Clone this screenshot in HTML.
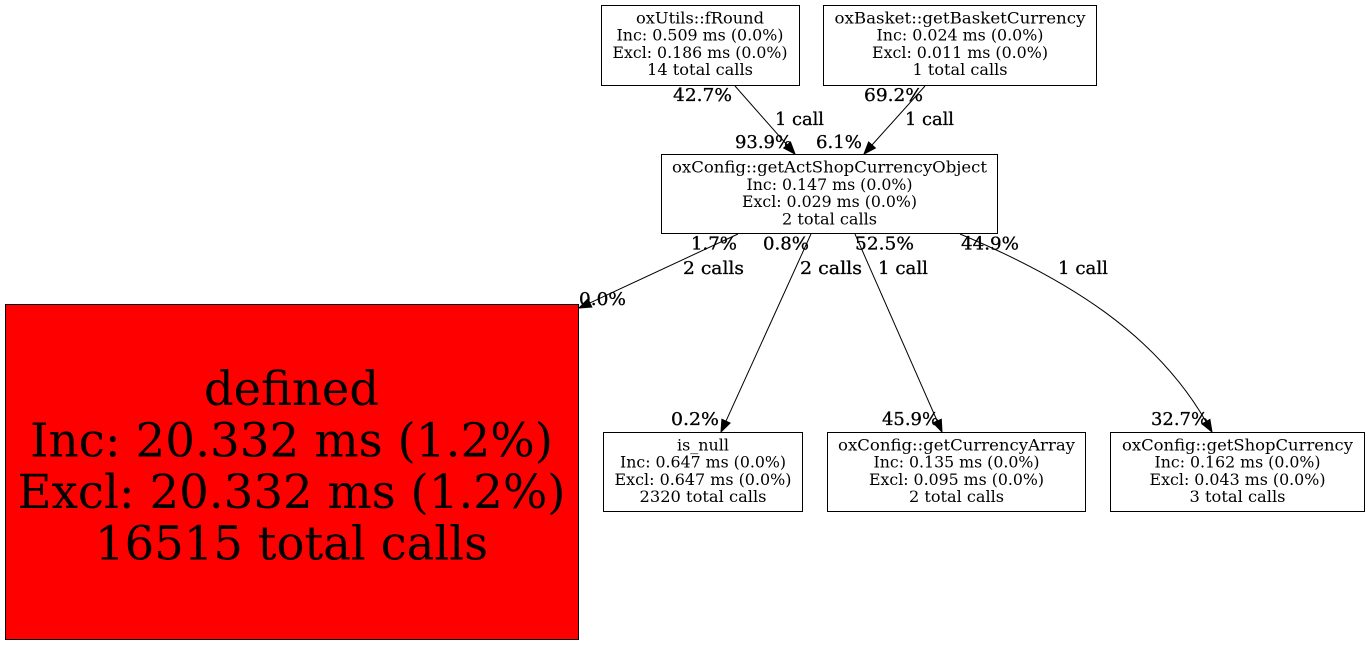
<!DOCTYPE html>
<html>
<head>
<meta charset="utf-8">
<style>
  html, body { margin: 0; padding: 0; background: #ffffff; }
  body { width: 1369px; height: 645px; overflow: hidden; }
  svg { display: block; }
  text { font-family: "DejaVu Serif", "Liberation Serif", serif; fill: #000; }
  .n { font-size: 16px; }
  .e { font-size: 18px; stroke: #000; stroke-width: 0.3; }
  .big { font-size: 46.6px; }
</style>
</head>
<body>
<svg width="1369" height="645" viewBox="0 0 1369 645" xmlns="http://www.w3.org/2000/svg">
  <rect x="0" y="0" width="1369" height="645" fill="#ffffff"/>

  <!-- oxUtils::fRound -->
  <rect x="601.5" y="5.5" width="198" height="80" fill="#fff" stroke="#000" stroke-width="1"/>
  <text class="n" x="700" y="23.3" text-anchor="middle" textLength="128" lengthAdjust="spacingAndGlyphs">oxUtils::fRound</text>
  <text class="n" x="700" y="40.6" text-anchor="middle" textLength="167" lengthAdjust="spacingAndGlyphs">Inc: 0.509 ms (0.0%)</text>
  <text class="n" x="700" y="57.9" text-anchor="middle" textLength="175" lengthAdjust="spacingAndGlyphs">Excl: 0.186 ms (0.0%)</text>
  <text class="n" x="700" y="75.2" text-anchor="middle" textLength="106" lengthAdjust="spacingAndGlyphs">14 total calls</text>

  <!-- oxBasket::getBasketCurrency -->
  <rect x="823.5" y="5.5" width="273" height="80" fill="#fff" stroke="#000" stroke-width="1"/>
  <text class="n" x="960" y="23.3" text-anchor="middle" textLength="251" lengthAdjust="spacingAndGlyphs">oxBasket::getBasketCurrency</text>
  <text class="n" x="960" y="40.6" text-anchor="middle" textLength="167" lengthAdjust="spacingAndGlyphs">Inc: 0.024 ms (0.0%)</text>
  <text class="n" x="960" y="57.9" text-anchor="middle" textLength="176" lengthAdjust="spacingAndGlyphs">Excl: 0.011 ms (0.0%)</text>
  <text class="n" x="960" y="75.2" text-anchor="middle" textLength="95" lengthAdjust="spacingAndGlyphs">1 total calls</text>

  <!-- oxConfig::getActShopCurrencyObject -->
  <rect x="661.5" y="154.5" width="336" height="79" fill="#fff" stroke="#000" stroke-width="1"/>
  <text class="n" x="829.5" y="172.5" text-anchor="middle" textLength="315" lengthAdjust="spacingAndGlyphs">oxConfig::getActShopCurrencyObject</text>
  <text class="n" x="829.5" y="189.8" text-anchor="middle" textLength="166" lengthAdjust="spacingAndGlyphs">Inc: 0.147 ms (0.0%)</text>
  <text class="n" x="829.5" y="207.1" text-anchor="middle" textLength="175" lengthAdjust="spacingAndGlyphs">Excl: 0.029 ms (0.0%)</text>
  <text class="n" x="829.5" y="224.4" text-anchor="middle" textLength="95" lengthAdjust="spacingAndGlyphs">2 total calls</text>

  <!-- defined (red) -->
  <rect x="5.5" y="304.5" width="573" height="335" fill="#ff0000" stroke="#000" stroke-width="1"/>
  <text class="big" x="291.5" y="405" text-anchor="middle" textLength="175" lengthAdjust="spacingAndGlyphs">defined</text>
  <text class="big" x="291.5" y="456.5" text-anchor="middle" textLength="523" lengthAdjust="spacingAndGlyphs">Inc: 20.332 ms (1.2%)</text>
  <text class="big" x="291.5" y="508" text-anchor="middle" textLength="548" lengthAdjust="spacingAndGlyphs">Excl: 20.332 ms (1.2%)</text>
  <text class="big" x="291.5" y="559.5" text-anchor="middle" textLength="393" lengthAdjust="spacingAndGlyphs">16515 total calls</text>

  <!-- is_null -->
  <rect x="603.5" y="432.5" width="199" height="79" fill="#fff" stroke="#000" stroke-width="1"/>
  <text class="n" x="703" y="450.3" text-anchor="middle" textLength="52" lengthAdjust="spacingAndGlyphs">is_null</text>
  <text class="n" x="703" y="467.6" text-anchor="middle" textLength="166" lengthAdjust="spacingAndGlyphs">Inc: 0.647 ms (0.0%)</text>
  <text class="n" x="703" y="484.9" text-anchor="middle" textLength="177" lengthAdjust="spacingAndGlyphs">Excl: 0.647 ms (0.0%)</text>
  <text class="n" x="703" y="502.2" text-anchor="middle" textLength="127" lengthAdjust="spacingAndGlyphs">2320 total calls</text>

  <!-- oxConfig::getCurrencyArray -->
  <rect x="827.5" y="432.5" width="258" height="79" fill="#fff" stroke="#000" stroke-width="1"/>
  <text class="n" x="956.5" y="450.3" text-anchor="middle" textLength="237" lengthAdjust="spacingAndGlyphs">oxConfig::getCurrencyArray</text>
  <text class="n" x="956.5" y="467.6" text-anchor="middle" textLength="166" lengthAdjust="spacingAndGlyphs">Inc: 0.135 ms (0.0%)</text>
  <text class="n" x="956.5" y="484.9" text-anchor="middle" textLength="175" lengthAdjust="spacingAndGlyphs">Excl: 0.095 ms (0.0%)</text>
  <text class="n" x="956.5" y="502.2" text-anchor="middle" textLength="95" lengthAdjust="spacingAndGlyphs">2 total calls</text>

  <!-- oxConfig::getShopCurrency -->
  <rect x="1110.5" y="432.5" width="254" height="79" fill="#fff" stroke="#000" stroke-width="1"/>
  <text class="n" x="1237.5" y="450.3" text-anchor="middle" textLength="231" lengthAdjust="spacingAndGlyphs">oxConfig::getShopCurrency</text>
  <text class="n" x="1237.5" y="467.6" text-anchor="middle" textLength="166" lengthAdjust="spacingAndGlyphs">Inc: 0.162 ms (0.0%)</text>
  <text class="n" x="1237.5" y="484.9" text-anchor="middle" textLength="176" lengthAdjust="spacingAndGlyphs">Excl: 0.043 ms (0.0%)</text>
  <text class="n" x="1237.5" y="502.2" text-anchor="middle" textLength="96" lengthAdjust="spacingAndGlyphs">3 total calls</text>

  <!-- Edges -->
  <g fill="none" stroke="#000" stroke-width="1">
    <path d="M735,86 L787.1,145"/>
    <path d="M925,86 L872,145"/>
    <path d="M738,234 L589.9,302.9"/>
    <path d="M811,234 L726,421.1"/>
    <path d="M855,234 L937.2,421"/>
    <path d="M960,234 C1070,280 1156,335 1206,421.6"/>
  </g>
  <g fill="#000" stroke="#000" stroke-width="1">
    <polygon points="795,154 783.7,148 790.5,142"/>
    <polygon points="864,154 875.4,148 868.6,142"/>
    <polygon points="579,308 588,298.8 591.8,307"/>
    <polygon points="721,432 721.9,419.2 730.1,423"/>
    <polygon points="942,432 933.1,422.8 941.3,419.2"/>
    <polygon points="1212,432 1202.1,423.9 1209.9,419.4"/>
  </g>

  <!-- Edge labels -->
  <text class="e" x="673" y="101" textLength="59" lengthAdjust="spacingAndGlyphs">42.7%</text>
  <text class="e" x="775" y="125" textLength="49" lengthAdjust="spacingAndGlyphs">1 call</text>
  <text class="e" x="735" y="148" textLength="57" lengthAdjust="spacingAndGlyphs">93.9%</text>
  <text class="e" x="864" y="101" textLength="59" lengthAdjust="spacingAndGlyphs">69.2%</text>
  <text class="e" x="905" y="125" textLength="49" lengthAdjust="spacingAndGlyphs">1 call</text>
  <text class="e" x="816" y="148" textLength="46" lengthAdjust="spacingAndGlyphs">6.1%</text>

  <text class="e" x="691" y="249.5" textLength="46" lengthAdjust="spacingAndGlyphs">1.7%</text>
  <text class="e" x="683" y="274" textLength="61" lengthAdjust="spacingAndGlyphs">2 calls</text>
  <text class="e" x="579" y="305" textLength="47" lengthAdjust="spacingAndGlyphs">0.0%</text>

  <text class="e" x="763" y="249.5" textLength="46" lengthAdjust="spacingAndGlyphs">0.8%</text>
  <text class="e" x="800" y="274" textLength="62" lengthAdjust="spacingAndGlyphs">2 calls</text>
  <text class="e" x="671" y="425" textLength="48" lengthAdjust="spacingAndGlyphs">0.2%</text>

  <text class="e" x="855" y="249.5" textLength="59" lengthAdjust="spacingAndGlyphs">52.5%</text>
  <text class="e" x="878" y="274" textLength="50" lengthAdjust="spacingAndGlyphs">1 call</text>
  <text class="e" x="882" y="425" textLength="57" lengthAdjust="spacingAndGlyphs">45.9%</text>

  <text class="e" x="961" y="249.5" textLength="58" lengthAdjust="spacingAndGlyphs">44.9%</text>
  <text class="e" x="1058" y="274" textLength="50" lengthAdjust="spacingAndGlyphs">1 call</text>
  <text class="e" x="1151" y="425" textLength="57" lengthAdjust="spacingAndGlyphs">32.7%</text>
</svg>
</body>
</html>
